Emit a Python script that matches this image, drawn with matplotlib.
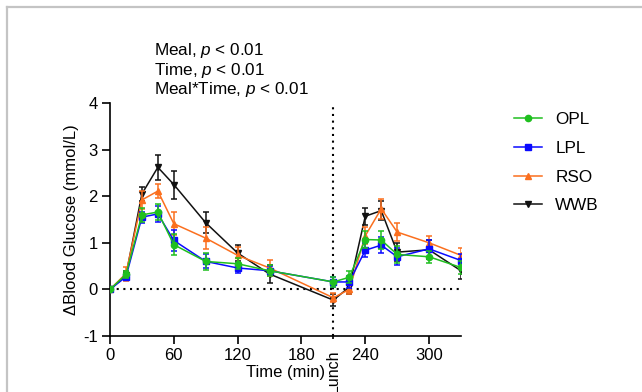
import numpy as np
import matplotlib
matplotlib.use('Agg')
import matplotlib.pyplot as plt
from matplotlib.lines import Line2D

plt.rcParams['font.family'] = ['Liberation Sans', 'DejaVu Sans']
plt.rcParams['mathtext.fontset'] = 'custom'
plt.rcParams['mathtext.it'] = 'Liberation Sans:italic'
plt.rcParams['mathtext.rm'] = 'Liberation Sans'
plt.rcParams['axes.unicode_minus'] = False

# time points (min)
time = [0, 15, 30, 45, 60, 90, 120, 150, 210, 225, 240, 255, 270, 300, 330]

# mean change in blood glucose (mmol/L) and SEM
opl = [0, 0.32, 1.60, 1.66, 0.96, 0.60, 0.55, 0.40, 0.16, 0.26, 1.07, 1.06, 0.75, 0.70, 0.47]
opl_err = [0, 0.08, 0.15, 0.17, 0.22, 0.18, 0.12, 0.12, 0.10, 0.13, 0.18, 0.20, 0.18, 0.13, 0.15]
lpl = [0, 0.27, 1.55, 1.62, 1.05, 0.60, 0.46, 0.40, 0.16, 0.16, 0.84, 0.95, 0.70, 0.87, 0.62]
lpl_err = [0, 0.06, 0.12, 0.18, 0.22, 0.15, 0.10, 0.10, 0.10, 0.12, 0.15, 0.17, 0.18, 0.20, 0.15]
rso = [0, 0.34, 1.92, 2.11, 1.41, 1.10, 0.73, 0.46, -0.18, 0.00, 1.15, 1.73, 1.23, 1.00, 0.73]
rso_err = [0, 0.15, 0.20, 0.15, 0.25, 0.23, 0.18, 0.17, 0.10, 0.10, 0.18, 0.22, 0.20, 0.15, 0.15]
wwb = [0, 0.30, 2.05, 2.62, 2.25, 1.43, 0.78, 0.33, -0.23, 0.05, 1.57, 1.69, 0.80, 0.85, 0.40]
wwb_err = [0, 0.10, 0.15, 0.27, 0.30, 0.23, 0.17, 0.20, 0.13, 0.15, 0.18, 0.20, 0.20, 0.20, 0.17]

labels = ['OPL', 'LPL', 'RSO', 'WWB']
series = [opl, lpl, rso, wwb]
errors = [opl_err, lpl_err, rso_err, wwb_err]
colors = ['#1fbf1f', '#0a0aff', '#fb6f1e', '#111111']
markers = ['o', 's', '^', 'v']

fig = plt.figure(figsize=(6.42, 3.92), dpi=100)
ax = fig.add_axes([110 / 642, 1 - 336 / 392, 351 / 642, 233 / 392])

# reference lines
ax.axhline(0, color='black', lw=1.5, ls=(0, (1, 2.2)), zorder=1)
ax.axvline(210, color='black', lw=1.5, ls=(0, (1, 2.2)), zorder=1)

# draw WWB first so OPL ends up on top
for i in [3, 2, 1, 0]:
    ax.errorbar(time, series[i], yerr=errors[i], color=colors[i],
                marker=markers[i], markersize=4.5, lw=1.1,
                elinewidth=1.1, capsize=2.5, capthick=1.1, zorder=3 + (3 - i))
handles = [Line2D([], [], color=colors[i], marker=markers[i], markersize=4.5, lw=1.1)
           for i in range(4)]

ax.set_xlim(0, 330)
ax.set_ylim(-1, 4)
ax.set_xticks([0, 60, 120, 180, 240, 300])
ax.set_xticks([210], minor=True)
ax.set_yticks([-1, 0, 1, 2, 3, 4])
ax.tick_params(labelsize=12, length=6, width=1.2, direction='out', pad=3)
ax.tick_params(axis='x', which='minor', length=2, width=1.2)
for s in ['top', 'right']:
    ax.spines[s].set_visible(False)
for s in ['left', 'bottom']:
    ax.spines[s].set_linewidth(1.2)

ax.set_xlabel('Time (min)', fontsize=12, labelpad=1)
ax.set_ylabel('\u0394Blood Glucose (mmol/L)', fontsize=12, labelpad=3)

# Lunch marker under the axis
ax.annotate('Lunch', xy=(210, 0), xycoords=('data', 'axes fraction'),
            xytext=(0, -9.5), textcoords='offset points', rotation=90,
            ha='center', va='top', fontsize=11.5)

# statistics text
stats = ['Meal, $p$ < 0.01', 'Time, $p$ < 0.01', 'Meal*Time, $p$ < 0.01']
for k, t in enumerate(stats):
    fig.text(154 / 642, 1 - (50.5 + 19.5 * k) / 392, t, fontsize=12.3,
             ha='left', va='center')

fig.legend(handles, labels, loc='upper left', bbox_to_anchor=(499 / 642, 1 - 97 / 392),
           frameon=False, fontsize=12.3, handlelength=1.6, handletextpad=0.8,
           labelspacing=0.8)

# grey frame of the original panel
fig.add_artist(Line2D([7 / 642, 7 / 642], [0, 1 - 7 / 392], color='#c4c4c4', lw=1.6))
fig.add_artist(Line2D([7 / 642, 1], [1 - 7 / 392, 1 - 7 / 392], color='#c4c4c4', lw=1.6))

plt.savefig('out.png', dpi=100)
